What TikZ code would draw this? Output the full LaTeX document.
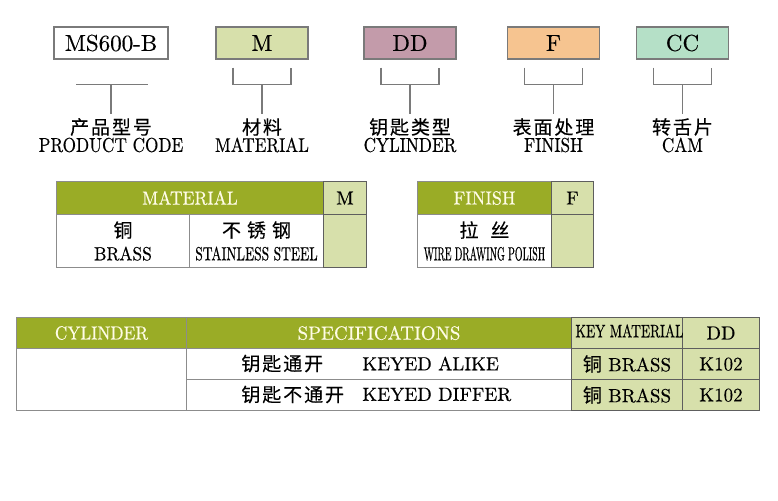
\documentclass[tikz,border=0pt]{standalone}
\usepackage{fontspec}
\usepackage{graphicx}
\usepackage{xcolor}
\setmainfont{lmroman10-regular.otf}[FakeBold=0.4]
\newfontfamily\cjk[LetterSpace=10,FakeBold=0.3]{Noto Sans CJK SC}
\usetikzlibrary{positioning}

\definecolor{hdgreen}{HTML}{9AAC26}
\definecolor{ltgreen}{HTML}{D7E0AB}
\definecolor{mauve}{HTML}{C39BAA}
\definecolor{peach}{HTML}{F6C490}
\definecolor{mint}{HTML}{B5E0C7}
\definecolor{boxgray}{HTML}{7A7A7A}
\definecolor{rulegray}{HTML}{8C8C8C}
\definecolor{darkrule}{HTML}{5E5E5E}
\definecolor{hdtext}{HTML}{FFFCE6}

\newcommand{\narrow}[2]{\scalebox{#1}[1]{#2}}
\newcommand{\zh}[1]{{\cjk #1}}

\tikzset{
  codebox/.style={rectangle,draw=boxgray,line width=0.6pt,minimum height=16pt,inner sep=0pt,font=\fontsize{11.5}{13}\selectfont},
  bracket/.style={draw=boxgray,line width=0.6pt},
  cnlbl/.style={font=\fontsize{9.5}{11}\cjk,inner sep=2pt},
  enlbl/.style={font=\fontsize{10}{12}\selectfont,inner sep=0pt},
  cell/.style={rectangle,draw=rulegray,line width=0.5pt,anchor=north west,inner sep=0pt,align=center,font=\fontsize{9.5}{11.5}\selectfont},
  hcell/.style={cell,fill=hdgreen,text=hdtext},
  lcell/.style={cell,fill=ltgreen,draw=darkrule,text=black},
  wcell/.style={cell,fill=white},
  rowtext/.style={anchor=west,inner sep=0pt,font=\fontsize{9.5}{11.5}\selectfont},
}

\begin{document}
\begin{tikzpicture}[x=0.5pt,y=-0.5pt]
  \useasboundingbox[fill=white] (0,0) rectangle (778,500);

  % code boxes
  \node[codebox,minimum width=57pt,fill=white] (code) at (111,43) {MS600-B};
  \node[codebox,minimum width=46pt,fill=ltgreen] (mat) at (262,43) {M};
  \node[codebox,minimum width=46pt,fill=mauve] (cyl) at (410,43) {DD};
  \node[codebox,minimum width=46pt,fill=peach] (fin) at (553.5,43) {F};
  \node[codebox,minimum width=46pt,fill=mint] (cam) at (682.5,43) {CC};

  \node[cnlbl] (code-cn) at (111,127) {产品型号};
  \node[enlbl] (code-en) at (111,145) {\narrow{0.86}{PRODUCT CODE}};
  \node[cnlbl] (mat-cn) at (262,127) {材料};
  \node[enlbl] (mat-en) at (262,145) {\narrow{0.86}{MATERIAL}};
  \node[cnlbl] (cyl-cn) at (410,127) {钥匙类型};
  \node[enlbl] (cyl-en) at (410,145) {\narrow{0.86}{CYLINDER}};
  \node[cnlbl] (fin-cn) at (553.5,127) {表面处理};
  \node[enlbl] (fin-en) at (553.5,145) {\narrow{0.86}{FINISH}};
  \node[cnlbl] (cam-cn) at (682.5,127) {转舌片};
  \node[enlbl] (cam-en) at (682.5,145) {\narrow{0.86}{CAM}};

  \draw[bracket] ([xshift=-17.5pt,yshift=-12.5pt]code.south) -- ([xshift=18.5pt,yshift=-12.5pt]code.south)
    ([yshift=-12.5pt]code.south) -- (code-cn.north);
  \foreach \b in {mat,cyl,fin,cam}
    \draw[bracket] ([xshift=-14.5pt,yshift=-4pt]\b.south) |- ([yshift=-12.5pt]\b.south) -| ([xshift=14.5pt,yshift=-4pt]\b.south)
      ([yshift=-12.5pt]\b.south) -- (\b-cn.north);

  % material table
  \node[hcell,minimum width=133.5pt,minimum height=16.5pt] (mathd) at (56,181) {\narrow{0.92}{MATERIAL}};
  \node[lcell,minimum width=21.5pt,minimum height=16.5pt] (matm) at (323,181) {M};
  \node[wcell,minimum width=66.5pt,minimum height=26.5pt] (brass) at (56,214) {\zh{铜}\\\narrow{0.92}{BRASS}};
  \node[wcell,minimum width=67pt,minimum height=26.5pt] (steel) at (189,214) {\zh{不\hspace{3pt}锈\hspace{3pt}钢}\\\narrow{0.71}{STAINLESS STEEL}};
  \node[lcell,minimum width=21.5pt,minimum height=26.5pt] (matcell) at (323,214) {};

  % finish table
  \node[hcell,minimum width=67pt,minimum height=16.5pt] (finhd) at (417,181) {\narrow{0.95}{FINISH}};
  \node[lcell,minimum width=21pt,minimum height=16.5pt] (finf) at (551,181) {F};
  \node[wcell,minimum width=67pt,minimum height=26.5pt] (polish) at (417,214) {\zh{拉\hspace{6pt}丝}\\\narrow{0.52}{WIRE DRAWING POLISH}};
  \node[lcell,minimum width=21pt,minimum height=26.5pt] (fincell) at (551,214) {};

  % cylinder table
  \node[hcell,minimum width=85pt,minimum height=15.5pt] (cylhd) at (16,317) {\narrow{0.91}{CYLINDER}};
  \node[hcell,minimum width=192.5pt,minimum height=15.5pt] (spechd) at (186,317) {SPECIFICATIONS};
  \node[lcell,minimum width=55.5pt,minimum height=15.5pt] (keyhd) at (571,317) {};
  \node[lcell,minimum width=38.5pt,minimum height=15.5pt] (ddhd) at (682,317) {DD};
  \node[wcell,minimum width=85pt,minimum height=31pt] (cylbody) at (16,348) {};
  \node[wcell,minimum width=192.5pt,minimum height=15.5pt] (alike) at (186,348) {};
  \node[wcell,minimum width=192.5pt,minimum height=15.5pt] (differ) at (186,379) {};
  \node[lcell,minimum width=55.5pt,minimum height=15.5pt] (key1) at (571,348) {\zh{铜} BRASS};
  \node[lcell,minimum width=38.5pt,minimum height=15.5pt] (dd1) at (682,348) {K102};
  \node[lcell,minimum width=55.5pt,minimum height=15.5pt] (key2) at (571,379) {\zh{铜} BRASS};
  \node[lcell,minimum width=38.5pt,minimum height=15.5pt] (dd2) at (682,379) {K102};
  \node[rowtext,anchor=center,font=\fontsize{9}{11}\selectfont] (keyhd-txt) at (629.5,331) {\narrow{0.75}{KEY MATERIAL}};

  \node[rowtext] (alike-cn) at (241,363.5) {\zh{钥匙通开}};
  \node[rowtext] (alike-en) at (362,363.5) {KEYED ALIKE};
  \node[rowtext] (differ-cn) at (241,394.5) {\zh{钥匙不通开}};
  \node[rowtext] (differ-en) at (362,394.5) {KEYED DIFFER};
\end{tikzpicture}
\end{document}
